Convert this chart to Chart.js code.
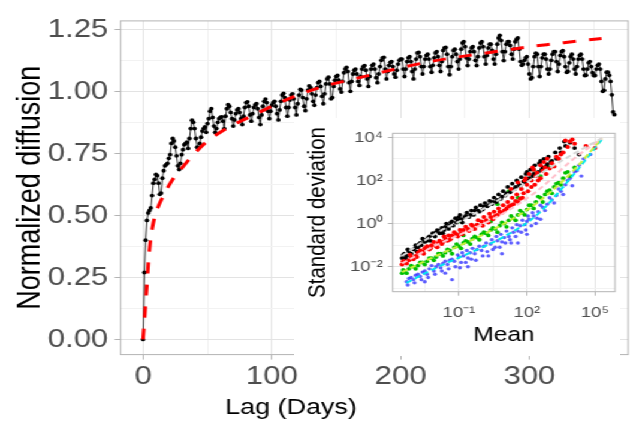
<!DOCTYPE html>
<html><head><meta charset="utf-8">
<script src="https://cdn.jsdelivr.net/npm/chart.js@4.4.1/dist/chart.umd.min.js"></script>
<style>
html,body{margin:0;padding:0;background:#fff;overflow:hidden;width:633px;height:422px}
#stage{position:absolute;left:0;top:0;width:528px;height:422px;transform:scaleX(1.19886);transform-origin:0 0}
#mainBox{position:absolute;left:0;top:0;width:528px;height:422px}
#insetBox{position:absolute;left:245px;top:118px;width:272px;height:238px;background:#fff}
</style></head><body>
<div id="stage">
 <div id="mainBox"><canvas id="main" width="528" height="422"></canvas></div>
 <div id="insetBox"><canvas id="inset" width="272" height="238"></canvas></div>
</div>
<script>
// ---------- main chart data ----------
const lagDays = Array.from({length: 367}, (_, i) => i); // daily lags 0..366
const normalizedDiffusion = [
 0, 0.27, 0.40, 0.48, 0.51, 0.52, 0.53,
 0.58, 0.63, 0.645, 0.665, 0.66, 0.63, 0.585,
 0.59, 0.65, 0.68, 0.70, 0.705, 0.71, 0.73,
 0.745, 0.79, 0.81, 0.80, 0.775, 0.74, 0.70,
 0.685, 0.71, 0.745, 0.765, 0.785, 0.79, 0.795,
 0.77, 0.81, 0.85, 0.884, 0.875, 0.85, 0.81,
 0.775, 0.77, 0.79, 0.815, 0.84, 0.85, 0.857,
 0.835, 0.87, 0.89, 0.92, 0.93, 0.895, 0.86,
 0.835, 0.85, 0.875, 0.89, 0.895, 0.897, 0.88,
 0.85, 0.90, 0.93, 0.946, 0.94, 0.915, 0.89,
 0.86, 0.885, 0.91, 0.925, 0.93, 0.915, 0.89,
 0.866, 0.90, 0.935, 0.955, 0.958, 0.94, 0.905,
 0.88, 0.91, 0.935, 0.945, 0.95, 0.93, 0.895,
 0.866, 0.905, 0.94, 0.96, 0.969, 0.955, 0.92,
 0.89, 0.92, 0.945, 0.955, 0.96, 0.94, 0.91,
 0.885, 0.925, 0.96, 0.985, 0.992, 0.975, 0.935,
 0.90, 0.935, 0.965, 0.985, 0.99, 0.97, 0.935,
 0.905, 0.95, 0.985, 1.008, 1.005, 0.975, 0.94,
 0.922, 0.97, 1.005, 1.022, 1.015, 0.99, 0.96,
 0.944, 0.985, 1.015, 1.035, 1.04, 1.02, 0.98,
 0.95, 0.99, 1.03, 1.05, 1.057, 1.03, 0.97,
 0.975, 1.02, 1.045, 1.06, 1.064, 1.045, 1.01,
 0.997, 1.04, 1.075, 1.09, 1.097, 1.08, 1.035,
 1.0, 1.04, 1.07, 1.085, 1.09, 1.07, 1.04,
 1.024, 1.06, 1.09, 1.10, 1.104, 1.085, 1.05,
 1.02, 1.06, 1.09, 1.105, 1.11, 1.09, 1.055,
 1.035, 1.07, 1.10, 1.125, 1.135, 1.137, 1.09,
 1.05, 1.08, 1.105, 1.117, 1.12, 1.10, 1.07,
 1.057, 1.085, 1.11, 1.125, 1.13, 1.13, 1.09,
 1.06, 1.09, 1.12, 1.135, 1.14, 1.12, 1.08,
 1.05, 1.09, 1.13, 1.155, 1.157, 1.14, 1.10,
 1.07, 1.10, 1.13, 1.145, 1.15, 1.13, 1.10,
 1.077, 1.105, 1.135, 1.155, 1.16, 1.14, 1.105,
 1.08, 1.12, 1.165, 1.175, 1.177, 1.15, 1.10,
 1.067, 1.10, 1.14, 1.165, 1.17, 1.15, 1.12,
 1.09, 1.13, 1.17, 1.195, 1.20, 1.18, 1.135,
 1.104, 1.13, 1.16, 1.175, 1.18, 1.16, 1.125,
 1.104, 1.14, 1.175, 1.195, 1.20, 1.18, 1.14,
 1.11, 1.145, 1.175, 1.19, 1.19, 1.165, 1.13,
 1.11, 1.15, 1.19, 1.215, 1.226, 1.205, 1.16,
 1.124, 1.16, 1.19, 1.20, 1.20, 1.185, 1.15,
 1.13, 1.17, 1.20, 1.21, 1.215, 1.17, 1.12,
 1.105, 1.11, 1.125, 1.135, 1.14, 1.11, 1.07,
 1.05, 1.055, 1.10, 1.14, 1.154, 1.15, 1.10,
 1.06, 1.10, 1.135, 1.15, 1.15, 1.13, 1.09,
 1.07, 1.09, 1.125, 1.15, 1.16, 1.16, 1.12,
 1.08, 1.11, 1.145, 1.16, 1.164, 1.14, 1.10,
 1.077, 1.08, 1.115, 1.14, 1.15, 1.13, 1.09,
 1.07, 1.10, 1.13, 1.145, 1.15, 1.13, 1.09,
 1.064, 1.065, 1.09, 1.115, 1.12, 1.10, 1.075,
 1.064, 1.064, 1.09, 1.105, 1.11, 1.09, 1.04,
 1.0, 1.004, 1.05, 1.077, 1.077, 1.065, 1.04,
 0.986, 0.917, 0.906
];
const fitLag = [0,1,2,3,4,5,6,8,10,13,16,20,25,30,40,50,60,70,80,90,100,120,140,160,180,200,220,240,260,280,300,320,340,356];
const fitValue = [0,0.07,0.15,0.22,0.30,0.36,0.41,0.47,0.51,0.55,0.58,0.62,0.66,0.69,0.75,0.80,0.835,0.865,0.89,0.915,0.94,0.985,1.02,1.045,1.07,1.095,1.117,1.135,1.15,1.165,1.18,1.192,1.204,1.213];
const mainXTickLabels = [0, 100, 200, 300];
const mainXGrid = [0, 50, 100, 150, 200, 250, 300, 350];
const mainYTickLabels = [0, 0.25, 0.5, 0.75, 1.0, 1.25];
const mainYGrid = [0, 0.125, 0.25, 0.375, 0.5, 0.625, 0.75, 0.875, 1.0, 1.125, 1.25];
const mainXTitle = 'Lag (Days)';
const mainYTitle = 'Normalized diffusion';

// ---------- inset data, read on the log axes: [log10(mean), log10(standard deviation)] ----------
const blackLog = [[-3.5,-1.6],[-3.4,-1.4],[-3.3,-1.5],[-3.2,-1.3],[-3.0,-1.2],[-2.9,-1.0],[-2.8,-1.1],[-2.7,-0.9],[-2.6,-0.7],[-2.5,-0.85],[-2.4,-0.8],[-2.3,-0.6],[-2.1,-0.55],[-2.0,-0.4],[-1.8,-0.3],[-1.7,-0.45],[-1.6,-0.15],[-1.4,-0.1],[-1.3,0.1],[-1.1,0.05],[-1.0,0.3],[-0.9,0.2],[-0.7,0.35],[-0.5,0.4],[-0.3,0.6],[-0.1,0.55],[0.1,0.8],[0.3,0.85],[0.5,1.0],[0.7,1.1],[0.9,1.25],[1.1,1.4],[1.3,1.5],[1.5,1.7],[1.7,1.75],[1.9,1.9],[2.1,2.1],[2.3,2.3],[2.5,2.4],[2.7,2.6],[2.9,2.75],[3.1,2.9],[3.3,3.0],[3.5,3.3],[3.7,3.6],[3.9,3.75],[4.1,3.5],[2.0,2.4],[2.6,2.9],[4.3,3.2],
 [-3.45,-1.45],[-3.35,-1.6],[-3.25,-1.2],[-3.1,-1.4],[-2.95,-1.15],[-2.85,-1.3],[-2.75,-0.95],[-2.65,-1.0],[-2.55,-0.75],[-2.35,-0.65],[-2.25,-0.8],[-2.15,-0.45],[-2.05,-0.6],[-1.95,-0.3],[-1.85,-0.45],[-1.75,-0.2],[-1.65,-0.3],[-1.55,0.0],[-1.45,-0.25],[-1.35,0.05],[-1.25,-0.1],[-1.15,0.25],[-1.05,0.15],[-0.95,0.4],[-0.85,0.05],[-0.75,0.3],[-0.65,0.5],[-0.55,0.3],[-0.45,0.6],[-0.35,0.4],[-0.25,0.75],[-0.15,0.6],[-0.05,0.85],[0.05,0.65],[0.15,0.95],[0.25,0.8],[0.35,1.05],[0.45,0.9],[0.55,1.2],[0.65,1.0],[0.75,1.35],[0.85,1.15],[0.95,1.5],[1.05,1.3],[1.15,1.7],[1.25,1.45],[1.35,1.85],[1.45,1.6],[1.55,2.0],[1.65,1.8],[1.75,2.15],[1.85,1.95],[1.95,2.3],[2.05,2.05],[2.15,2.5],[2.25,2.2],[2.35,2.7],[2.45,2.35],[2.55,2.8],[2.65,2.5],[2.75,3.0],[2.85,2.65],[2.95,3.1],[3.05,2.85],[3.25,3.3],[3.45,3.5],[3.65,3.8]];
const redLog = [[-3.5,-1.9],[-3.4,-1.75],[-3.2,-1.7],[-3.1,-1.55],[-2.9,-1.5],[-2.8,-1.35],[-2.6,-1.3],[-2.5,-1.15],[-2.3,-1.2],[-2.2,-1.0],[-2.0,-1.05],[-1.9,-0.9],[-1.7,-0.85],[-1.6,-0.7],[-1.4,-0.75],[-1.3,-0.55],[-1.1,-0.5],[-0.9,-0.45],[-0.8,-0.3],[-0.6,-0.25],[-0.4,-0.1],[-0.2,-0.05],[0.0,0.1],[0.2,0.15],[0.4,0.3],[0.6,0.35],[0.8,0.55],[1.0,0.6],[1.2,0.8],[1.4,0.9],[1.6,1.0],[1.8,1.2],[1.3,1.6],[1.6,1.9],[1.9,2.0],[2.1,2.3],[2.3,2.5],[2.4,2.2],[2.6,2.7],[2.8,2.6],[2.9,3.0],[3.1,2.8],[3.3,3.1],[3.5,3.2],[3.7,3.85],[3.9,3.8],[4.1,3.7],[4.6,3.6],[5.0,3.5],[2.2,1.7],[2.5,2.0],
 [-3.45,-1.75],[-3.3,-1.85],[-3.15,-1.45],[-3.0,-1.65],[-2.85,-1.55],[-2.7,-1.25],[-2.55,-1.4],[-2.4,-1.05],[-2.25,-1.15],[-2.1,-0.85],[-1.95,-1.1],[-1.85,-0.8],[-1.75,-0.95],[-1.65,-0.6],[-1.5,-0.8],[-1.45,-0.55],[-1.35,-0.7],[-1.2,-0.4],[-1.05,-0.6],[-0.95,-0.3],[-0.85,-0.5],[-0.7,-0.15],[-0.55,-0.35],[-0.45,-0.05],[-0.3,-0.25],[-0.15,0.15],[0.05,-0.1],[0.1,0.3],[0.3,0.05],[0.35,0.45],[0.5,0.2],[0.55,0.55],[0.7,0.4],[0.75,0.7],[0.9,0.5],[0.95,0.85],[1.1,0.7],[1.15,1.0],[1.3,0.85],[1.35,1.2],[1.5,1.05],[1.55,1.35],[1.7,1.15],[1.75,1.6],[1.85,1.4],[2.0,1.8],[2.05,1.5],[2.2,2.0],[2.35,1.8],[2.45,2.35],[2.6,2.1],[2.7,2.45],[2.85,2.3],[3.0,2.55],[3.2,2.65],[3.4,3.0],[3.6,3.3],[3.8,3.55],[4.0,3.9],[2.75,2.85],[1.95,2.1],[2.25,2.6]];
const greenLog = [[-3.5,-2.3],[-3.4,-2.2],[-3.2,-2.1],[-3.0,-2.0],[-2.8,-1.95],[-2.6,-1.8],[-2.4,-1.75],[-2.2,-1.6],[-2.0,-1.55],[-1.8,-1.4],[-1.6,-1.35],[-1.4,-1.25],[-1.2,-1.1],[-1.0,-1.05],[-0.8,-0.9],[-0.6,-0.85],[-0.4,-0.7],[-0.2,-0.65],[0.0,-0.5],[0.2,-0.45],[0.4,-0.3],[0.6,-0.25],[0.8,-0.1],[1.0,0.0],[1.2,0.15],[1.4,0.25],[1.6,0.4],[1.8,0.5],[2.0,0.65],[2.2,0.85],[2.4,1.0],[2.6,1.2],[2.8,1.35],[3.0,1.55],[3.2,1.7],[3.4,1.9],[3.6,2.1],[3.8,2.4],[1.2,1.5],[1.9,2.0],[2.3,2.5],[2.6,2.2],[3.0,2.6],[-1.0,0.1],[0.7,0.9],
 [-3.45,-2.15],[-3.3,-2.3],[-3.1,-1.95],[-2.9,-2.1],[-2.7,-1.8],[-2.5,-1.9],[-2.3,-1.6],[-2.1,-1.7],[-1.9,-1.4],[-1.7,-1.5],[-1.5,-1.2],[-1.3,-1.4],[-1.1,-0.95],[-0.9,-1.15],[-0.7,-0.8],[-0.5,-0.95],[-0.3,-0.6],[-0.1,-0.75],[0.1,-0.4],[0.3,-0.55],[0.5,-0.2],[0.7,-0.4],[0.9,0.05],[1.1,-0.15],[1.3,0.35],[1.5,0.15],[1.7,0.6],[1.9,0.4],[2.1,0.85],[2.3,0.7],[2.5,1.25],[2.7,1.0],[2.9,1.5],[3.1,1.4],[3.3,1.85],[3.5,1.8],[3.7,2.35],[3.9,2.2],[4.1,2.6],[-0.8,-0.55],[0.4,0.1],[1.6,1.2]];
const blueLog = [[-3.3,-2.7],[-3.2,-2.55],[-3.0,-2.6],[-2.9,-2.4],[-2.7,-2.45],[-2.6,-2.25],[-2.4,-2.35],[-2.3,-2.1],[-2.1,-2.2],[-2.0,-2.0],[-1.8,-2.05],[-1.7,-1.85],[-1.5,-1.9],[-1.4,-1.7],[-1.3,-2.6],[-1.2,-1.75],[-1.0,-1.55],[-0.9,-1.8],[-0.8,-1.5],[-0.6,-1.6],[-0.5,-1.35],[-0.3,-1.4],[-0.2,-1.2],[0.0,-1.25],[0.1,-1.05],[0.3,-1.5],[0.4,-0.95],[0.6,-1.1],[0.7,-0.8],[0.9,-0.85],[1.0,-0.65],[1.2,-0.6],[1.3,-0.9],[1.4,-0.4],[1.6,-0.35],[1.7,-0.1],[1.9,-0.05],[2.0,-0.5],[2.1,0.2],[2.3,0.35],[2.4,0.0],[2.5,0.55],[2.7,0.75],[2.9,0.9],[3.1,1.1],[3.3,1.3],[3.5,1.5],[3.7,1.8],[3.9,2.1],[4.1,2.4],[4.3,2.7],[4.5,3.0],[4.8,3.2],[2.0,0.1],[-2.5,-2.7],[-1.6,-2.3],
 [-3.25,-2.85],[-3.1,-2.5],[-2.95,-2.75],[-2.8,-2.35],[-2.65,-2.6],[-2.5,-2.2],[-2.35,-2.5],[-2.2,-1.95],[-2.05,-2.35],[-1.9,-1.9],[-1.75,-2.2],[-1.6,-1.75],[-1.45,-2.1],[-1.3,-1.65],[-1.15,-2.0],[-1.05,-1.45],[-0.95,-2.05],[-0.85,-1.35],[-0.7,-1.8],[-0.65,-1.25],[-0.45,-1.65],[-0.4,-1.15],[-0.25,-1.7],[-0.1,-1.05],[0.05,-1.5],[0.2,-0.9],[0.25,-1.3],[0.45,-0.75],[0.5,-1.2],[0.65,-0.6],[0.8,-1.1],[0.85,-0.5],[1.05,-0.9],[1.1,-0.35],[1.25,-0.75],[1.35,-0.2],[1.5,-0.6],[1.55,-0.05],[1.75,-0.4],[1.8,0.15],[1.95,-0.3],[2.05,0.35],[2.2,-0.1],[2.25,0.5],[2.45,0.25],[2.6,0.85],[2.8,0.6],[3.0,1.2],[3.2,0.95],[3.4,1.6],[3.6,1.35],[3.8,2.0],[4.0,1.75],[4.2,2.45],[4.4,2.2],[-0.6,-2.0],[0.9,-1.4],[1.6,-0.9],[2.6,0.2]];
const blackFitLog = [[-3.5,-1.5],[-2,-0.45],[-0.5,0.35],[1,1.25],[2.5,2.25],[4,3.2],[5.3,3.95]];
const redFitLog = [[-3.5,-1.85],[-2,-1.0],[-0.5,-0.3],[1,0.5],[2.5,1.55],[4,2.95],[5.3,3.95]];
const greenFitLog = [[-3.5,-2.25],[-2,-1.5],[-0.5,-0.8],[1,0.0],[2.5,1.0],[4,2.4],[5.3,3.95]];
const blueFitLog = [[-3.3,-2.75],[-2,-2.05],[-0.5,-1.35],[1,-0.6],[2.5,0.45],[4,2.2],[5.3,3.9]];
const insetXTickVals = [1e-1, 1e2, 1e5];
const insetXTickLabels = ['10\u207B\u00B9', '10\u00B2', '10\u2075'];
const insetXGrid = [3.1623e-3, 1e-1, 3.1623, 1e2, 3162.3, 1e5];
const insetYTickVals = [1e-2, 1, 1e2, 1e4];
const insetYTickLabels = ['10\u207B\u00B2', '10\u2070', '10\u00B2', '10\u2074'];
const insetYGrid = [1e-3, 1e-2, 1e-1, 1, 10, 100, 1e3, 1e4];
const insetXTitle = 'Mean';
const insetYTitle = 'Standard deviation';

// ---------- helpers ----------
const FONT = "'Liberation Sans', Arial, Helvetica, sans-serif";
const near = (a, b) => Math.abs(a - b) < 1e-9;
const nearLog = (a, b) => Math.abs(Math.log10(a) - Math.log10(b)) < 1e-3;
const panelBorder = {
  id: 'panelBorder',
  afterDraw(chart) {
    const {ctx, chartArea: a} = chart;
    ctx.save();
    ctx.strokeStyle = '#b3b3b3'; ctx.lineWidth = 1;
    ctx.strokeRect(a.left, a.top, a.right - a.left, a.bottom - a.top);
    ctx.restore();
  }
};
const xTitlePlugin = {
  id: 'xTitle',
  afterDraw(chart) {
    const ctx = chart.ctx;
    ctx.save();
    ctx.font = '22.5px ' + FONT;
    ctx.fillStyle = '#000';
    ctx.textAlign = 'center'; ctx.textBaseline = 'middle';
    ctx.fillText(mainXTitle, 242.7, 407.5);
    ctx.restore();
  }
};

// ---------- main chart ----------
new Chart(document.getElementById('main'), {
  type: 'line',
  data: {
    datasets: [
      { label: 'Fit', data: fitLag.map((x, i) => ({x, y: fitValue[i]})),
        borderColor: '#ff0000', borderWidth: 3, borderDash: [11, 11], borderCapStyle: 'butt',
        pointRadius: 0, fill: false, cubicInterpolationMode: 'monotone' },
      { label: 'Normalized diffusion', data: lagDays.map((x, i) => ({x, y: normalizedDiffusion[i]})),
        borderColor: '#333333', borderWidth: 1, pointRadius: 1.9, pointBackgroundColor: '#000',
        pointBorderWidth: 0, fill: false, tension: 0 }
    ]
  },
  options: {
    responsive: false, animation: false, events: [],
    layout: { padding: { top: 16.5, right: 0, left: 0, bottom: 0 } },
    plugins: { legend: { display: false }, tooltip: { enabled: false } },
    scales: {
      x: {
        type: 'linear', min: -17.46, max: 376.7,
        afterBuildTicks: s => { s.ticks = mainXGrid.map(v => ({value: v})); },
        afterFit: s => { s.height = 67.4; },
        border: { display: false },
        grid: {
          color: c => (c.tick && mainXTickLabels.includes(c.tick.value)) ? '#e3e3e3' : '#f2f2f2',
          tickColor: c => (c.tick && mainXTickLabels.includes(c.tick.value)) ? '#b3b3b3' : 'rgba(0,0,0,0)',
          lineWidth: 1, tickLength: 5
        },
        ticks: { autoSkip: false, maxRotation: 0, padding: 2, color: '#4d4d4d',
          font: { family: FONT, size: 26 },
          callback: v => mainXTickLabels.includes(v) ? String(v) : '' }
      },
      y: {
        type: 'linear', min: -0.061, max: 1.284,
        afterBuildTicks: s => { s.ticks = mainYGrid.map(v => ({value: v})); },
        afterFit: s => { s.width = 100.6; },
        border: { display: false },
        grid: {
          color: c => (c.tick && mainYTickLabels.some(t => near(t, c.tick.value))) ? '#e3e3e3' : '#f2f2f2',
          tickColor: c => (c.tick && mainYTickLabels.some(t => near(t, c.tick.value))) ? '#b3b3b3' : 'rgba(0,0,0,0)',
          lineWidth: 1, tickLength: 5
        },
        ticks: { autoSkip: false, padding: 5.3, color: '#4d4d4d',
          font: { family: FONT, size: 26 },
          callback: v => mainYTickLabels.some(t => near(t, v)) ? v.toFixed(2) : '' },
        title: { display: true, text: mainYTitle, color: '#000',
          font: { family: FONT, size: 27 }, padding: { top: 9.5, bottom: 0 } }
      }
    }
  },
  plugins: [panelBorder, xTitlePlugin]
});

// ---------- inset chart ----------
const pts = arr => arr.map(p => ({x: Math.pow(10, p[0]), y: Math.pow(10, p[1])}));
const fitSet = (label, arr, color) => ({ label, data: pts(arr), showLine: true, borderColor: color,
  borderWidth: 2, borderDash: [5, 3], pointRadius: 0, cubicInterpolationMode: 'monotone' });
const ptSet = (label, arr, color, r) => ({ label, data: pts(arr), showLine: false,
  backgroundColor: color, pointRadius: r, pointBorderWidth: 0, borderWidth: 0 });

new Chart(document.getElementById('inset'), {
  type: 'scatter',
  data: {
    datasets: [
      fitSet('fit 1', blackFitLog, '#d6d6d6'),
      fitSet('fit 2', redFitLog, '#ffc0cb'),
      fitSet('fit 3', greenFitLog, '#c8f03c'),
      fitSet('fit 4', blueFitLog, '#00e5ee'),
      ptSet('red', redLog, '#ff0000', 2.0),
      ptSet('black', blackLog, '#000000', 1.9),
      ptSet('green', greenLog, '#00c000', 1.9),
      ptSet('blue', blueLog, 'rgba(40,40,255,0.75)', 1.7)
    ]
  },
  options: {
    responsive: false, animation: false, events: [],
    layout: { padding: { top: 15.3, right: 3.4, left: 0, bottom: 0 } },
    plugins: { legend: { display: false }, tooltip: { enabled: false } },
    scales: {
      x: {
        type: 'logarithmic', min: 1.23e-4, max: 7.59e5,
        afterBuildTicks: s => { s.ticks = insetXGrid.map(v => ({value: v})); },
        afterFit: s => { s.height = 64.3; },
        border: { display: false },
        grid: {
          color: c => (c.tick && insetXTickVals.some(t => nearLog(t, c.tick.value))) ? '#e3e3e3' : '#f2f2f2',
          tickColor: c => (c.tick && insetXTickVals.some(t => nearLog(t, c.tick.value))) ? '#b3b3b3' : 'rgba(0,0,0,0)',
          lineWidth: 1, tickLength: 4
        },
        ticks: { autoSkip: false, maxRotation: 0, padding: 7.4, color: '#4d4d4d',
          font: { family: FONT, size: 15.5 },
          callback: v => { const i = insetXTickVals.findIndex(t => nearLog(t, v)); return i >= 0 ? insetXTickLabels[i] : ''; } },
        title: { display: true, text: insetXTitle, color: '#000',
          font: { family: FONT, size: 20.5 }, padding: { top: 0, bottom: 8.4 } }
      },
      y: {
        type: 'logarithmic', min: 6.93e-4, max: 1.53e4,
        afterBuildTicks: s => { s.ticks = insetYGrid.map(v => ({value: v})); },
        afterFit: s => { s.width = 82.6; },
        border: { display: false },
        grid: {
          color: c => (c.tick && insetYTickVals.some(t => nearLog(t, c.tick.value))) ? '#e3e3e3' : '#f2f2f2',
          tickColor: c => (c.tick && insetYTickVals.some(t => nearLog(t, c.tick.value))) ? '#b3b3b3' : 'rgba(0,0,0,0)',
          lineWidth: 1, tickLength: 4
        },
        ticks: { autoSkip: false, padding: 4.3, color: '#4d4d4d',
          font: { family: FONT, size: 15.5 },
          callback: v => { const i = insetYTickVals.findIndex(t => nearLog(t, v)); return i >= 0 ? insetYTickLabels[i] : ''; } },
        title: { display: true, text: insetYTitle, color: '#000',
          font: { family: FONT, size: 20.5 }, padding: { top: 7.8, bottom: 0 } }
      }
    }
  },
  plugins: [panelBorder]
});
</script>
</body></html>
